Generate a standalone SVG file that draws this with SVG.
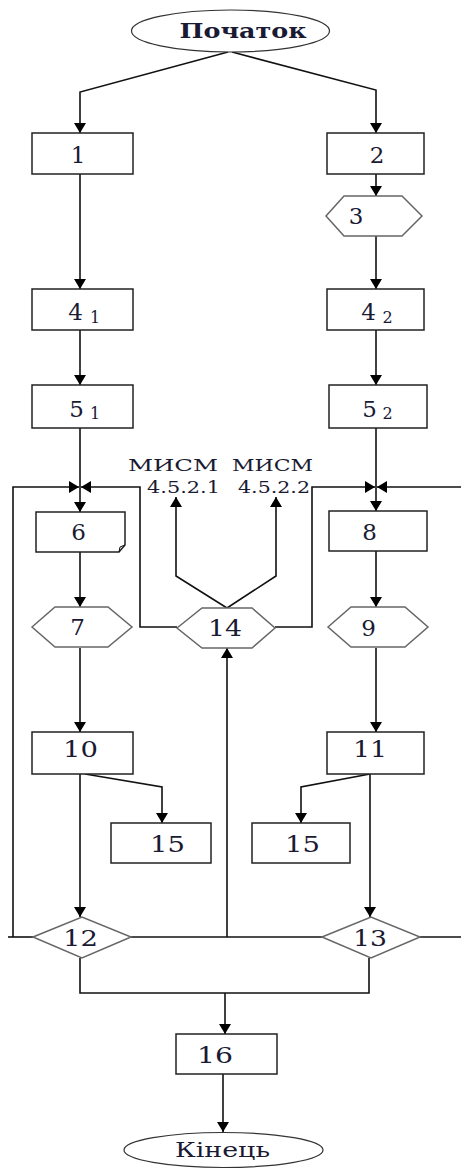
<svg xmlns="http://www.w3.org/2000/svg" width="461" height="1169" viewBox="0 0 461 1169">
<defs>
<marker id="ah" markerUnits="userSpaceOnUse" markerWidth="11" markerHeight="12" refX="10" refY="6" orient="auto">
<path d="M0,0 L10,6 L0,12 Z" fill="#000"/>
</marker>
<style>
.box{fill:#fff;stroke:#222;stroke-width:1.5}
.hex{fill:#fff;stroke:#666;stroke-width:1.5}
.term{fill:#fff;stroke:#333;stroke-width:1.2}
.ln{fill:none;stroke:#111;stroke-width:1.6}
.ar{fill:none;stroke:#111;stroke-width:1.6;marker-end:url(#ah)}
text{font-family:"DejaVu Serif","Liberation Serif",serif;fill:#1a1a33;text-anchor:middle}
.n{font-size:23px}
.s{font-size:16px}
.l{font-size:17px}
</style>
</defs>
<rect width="461" height="1169" fill="#fff"/>
<g id="connectors">
<polyline class="ar" points="228,52 80,92 80,133"/>
<polyline class="ar" points="232,52 376,90 376,133"/>
<line class="ar" x1="80" y1="174" x2="80" y2="289"/>
<line class="ar" x1="376" y1="174" x2="376" y2="196"/>
<line class="ar" x1="376" y1="236" x2="376" y2="289"/>
<line class="ar" x1="80" y1="330" x2="80" y2="385"/>
<line class="ar" x1="376" y1="330" x2="376" y2="385"/>
<line class="ar" x1="80" y1="428" x2="80" y2="512"/>
<line class="ar" x1="376" y1="428" x2="376" y2="511"/>
<path class="ln" d="M33,937 H8"/>
<polyline class="ar" points="13,937 13,487 79,487"/>
<polyline class="ar" points="177,627 140,627 140,487 81,487"/>
<polyline class="ar" points="275,627 312,627 312,487 375,487"/>
<polyline class="ar" points="461,487 377,487"/>
<path class="ln" d="M420,937 H461"/>
<polyline class="ar" points="227,608 176,576 176,497"/>
<polyline class="ar" points="227,608 276,576 276,497"/>
<line class="ar" x1="80" y1="552" x2="80" y2="607"/>
<line class="ar" x1="376" y1="551" x2="376" y2="607"/>
<line class="ar" x1="80" y1="648" x2="80" y2="732"/>
<line class="ar" x1="376" y1="648" x2="376" y2="732"/>
<polyline class="ar" points="85,774 162,787 162,823"/>
<polyline class="ar" points="370,774 301,787 301,823"/>
<line class="ar" x1="80" y1="774" x2="80" y2="917"/>
<line class="ar" x1="370" y1="774" x2="370" y2="917"/>
<path class="ln" d="M131,937 H322"/>
<line class="ar" x1="227" y1="937" x2="227" y2="648"/>
<polyline class="ln" points="80,958 80,993 369,993 369,958"/>
<line class="ar" x1="225" y1="993" x2="225" y2="1034"/>
<line class="ar" x1="223" y1="1074" x2="223" y2="1132"/>
</g>
<g id="start">
<ellipse class="term" cx="230.5" cy="31" rx="99" ry="21"/>
<text x="243" y="38" style="font-size:21px;font-weight:bold" textLength="127" lengthAdjust="spacingAndGlyphs">Початок</text>
</g>
<g id="n1"><rect class="box" x="32" y="133" width="101" height="41"/><text class="n" x="78" y="163">1</text></g>
<g id="n2"><rect class="box" x="327" y="133" width="97" height="41"/><text class="n" x="377" y="163">2</text></g>
<g id="n3"><polygon class="hex" points="326,216 344,196 402,196 422,216 402,236 344,236"/><text class="n" x="356" y="224">3</text></g>
<g id="n4_1"><rect class="box" x="32" y="289" width="101" height="41"/><text class="n" x="75.5" y="320">4</text><text class="s" x="95" y="323">1</text></g>
<g id="n4_2"><rect class="box" x="327" y="289" width="97" height="41"/><text class="n" x="368.5" y="320">4</text><text class="s" x="387.5" y="323">2</text></g>
<g id="n5_1"><rect class="box" x="32" y="385" width="101" height="43"/><text class="n" x="76.5" y="417">5</text><text class="s" x="95" y="419">1</text></g>
<g id="n5_2"><rect class="box" x="329" y="385" width="98" height="43"/><text class="n" x="369.5" y="417">5</text><text class="s" x="387.5" y="419">2</text></g>
<g id="labels">
<text class="l" x="173" y="471" textLength="90" lengthAdjust="spacingAndGlyphs">МИСМ</text>
<text class="l" x="272.5" y="471" textLength="81" lengthAdjust="spacingAndGlyphs">МИСМ</text>
<text class="l" x="183.5" y="493" textLength="73" lengthAdjust="spacingAndGlyphs">4.5.2.1</text>
<text class="l" x="274" y="493" textLength="72" lengthAdjust="spacingAndGlyphs">4.5.2.2</text>
</g>
<g id="n6"><path class="box" d="M36,512 H125 V545 L119,552 H36 Z"/><path class="ln" style="stroke-width:1" d="M119,552 L120,547 L125,545"/><text class="n" x="78.5" y="540">6</text></g>
<g id="n8"><rect class="box" x="329" y="511" width="98" height="40"/><text class="n" x="369.5" y="540">8</text></g>
<g id="n7"><polygon class="hex" points="32,627 55,607 108,607 132,627 108,647 55,647"/><text class="n" x="77.5" y="635">7</text></g>
<g id="n14"><polygon class="hex" points="177,628 202,608 252,608 275,628 252,648 202,648"/><text class="n" x="225" y="636" textLength="34" lengthAdjust="spacingAndGlyphs">14</text></g>
<g id="n9"><polygon class="hex" points="328,627 351,607 405,607 428,627 405,647 351,647"/><text class="n" x="368.5" y="636">9</text></g>
<g id="n10"><rect class="box" x="32" y="732" width="101" height="42"/><text class="n" x="80.5" y="757" textLength="35" lengthAdjust="spacingAndGlyphs">10</text></g>
<g id="n11"><rect class="box" x="327" y="732" width="97" height="42"/><text class="n" x="370" y="757" textLength="34" lengthAdjust="spacingAndGlyphs">11</text></g>
<g id="n15a"><rect class="box" x="111" y="823" width="100" height="40"/><text class="n" x="167.5" y="852" textLength="35" lengthAdjust="spacingAndGlyphs">15</text></g>
<g id="n15b"><rect class="box" x="252" y="823" width="98" height="40"/><text class="n" x="302.5" y="852" textLength="35" lengthAdjust="spacingAndGlyphs">15</text></g>
<g id="n12"><polygon class="hex" points="33,937 82,917 131,937 82,958"/><text class="n" x="80.5" y="946" textLength="35" lengthAdjust="spacingAndGlyphs">12</text></g>
<g id="n13"><polygon class="hex" points="322,937 371,917 420,937 371,958"/><text class="n" x="370" y="946" textLength="34" lengthAdjust="spacingAndGlyphs">13</text></g>
<g id="n16"><rect class="box" x="176" y="1034" width="101" height="40"/><text class="n" x="215" y="1063" textLength="36" lengthAdjust="spacingAndGlyphs">16</text></g>
<g id="end">
<ellipse class="term" cx="223.5" cy="1150" rx="99.5" ry="17.5"/>
<text x="222.5" y="1157" style="font-size:20px" textLength="95" lengthAdjust="spacingAndGlyphs">Кінець</text>
</g>
</svg>
